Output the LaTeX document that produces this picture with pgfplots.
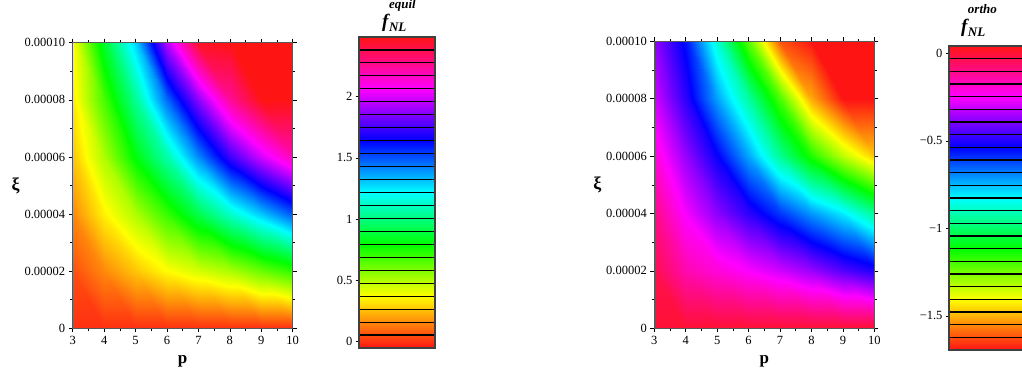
\documentclass[border=0pt]{standalone}
\usepackage{pgfplots}
\usepackage{pgfplotstable}
\pgfplotsset{compat=1.18}
\usepackage{fontspec}
\setmainfont{Liberation Serif}

\newcommand{\fnl}[1]{{\bfseries\itshape\fontsize{19}{20}\selectfont f}\kern0.5pt\raisebox{-4pt}{\rlap{\bfseries\itshape\fontsize{13}{13}\selectfont NL}}\raisebox{19pt}{\bfseries\itshape\fontsize{13}{13}\selectfont #1}}

\pgfplotsset{colormap={myhsv}{rgb255=(255,20,20) rgb255=(255,255,0) rgb255=(0,255,0) rgb255=(0,255,255) rgb255=(0,0,255) rgb255=(255,0,255) rgb255=(255,20,20)}}

\pgfplotstableread{
p xi f
3 0 0
4 0 0
5 0 0
6 0 0
7 0 0
8 0 0
9 0 0
10 0 0
3 0.00002 0.055
4 0.00002 0.16
5 0.00002 0.27
6 0.00002 0.37
7 0.00002 0.44
8 0.00002 0.51
9 0.00002 0.62
10 0.00002 0.72
3 0.00004 0.16
4 0.00004 0.35
5 0.00004 0.51
6 0.00004 0.71
7 0.00004 0.92
8 0.00004 1.13
9 0.00004 1.31
10 0.00004 1.50
3 0.00006 0.27
4 0.00006 0.51
5 0.00006 0.82
6 0.00006 1.08
7 0.00006 1.41
8 0.00006 1.74
9 0.00006 1.99
10 0.00006 2.20
3 0.00008 0.34
4 0.00008 0.68
5 0.00008 1.05
6 0.00008 1.47
7 0.00008 1.87
8 0.00008 2.25
9 0.00008 2.50
10 0.00008 2.85
3 0.0001 0.38
4 0.0001 0.88
5 0.0001 1.30
6 0.0001 1.95
7 0.0001 2.45
8 0.0001 2.85
9 0.0001 3.20
10 0.0001 3.50
}\equiltable

\pgfplotstableread{
p xi f
3 0 0
4 0 0
5 0 0
6 0 0
7 0 0
8 0 0
9 0 0
10 0 0
3 0.00002 -0.03
4 0.00002 -0.15
5 0.00002 -0.20
6 0.00002 -0.25
7 0.00002 -0.30
8 0.00002 -0.36
9 0.00002 -0.44
10 0.00002 -0.50
3 0.00004 -0.10
4 0.00004 -0.26
5 0.00004 -0.38
6 0.00004 -0.49
7 0.00004 -0.60
8 0.00004 -0.71
9 0.00004 -0.81
10 0.00004 -0.95
3 0.00006 -0.20
4 0.00006 -0.37
5 0.00006 -0.53
6 0.00006 -0.73
7 0.00006 -0.95
8 0.00006 -1.15
9 0.00006 -1.33
10 0.00006 -1.47
3 0.00008 -0.30
4 0.00008 -0.49
5 0.00008 -0.72
6 0.00008 -0.94
7 0.00008 -1.20
8 0.00008 -1.51
9 0.00008 -1.80
10 0.00008 -2.00
3 0.0001 -0.37
4 0.0001 -0.56
5 0.0001 -0.88
6 0.0001 -1.23
7 0.0001 -1.62
8 0.0001 -2.05
9 0.0001 -2.35
10 0.0001 -2.50
}\orthotable

% colour bars: value range of each bar (bottom and top)
\pgfplotstableread{
x y
0 -0.051
1 -0.051
0 2.487
1 2.487
}\equilbar
\pgfplotstableread{
x y
0 -1.695
1 -1.695
0 0.042
1 0.042
}\orthobar

\pgfplotsset{
  mainplot/.style={
    scale only axis, width=220pt,
    xmin=3, xmax=10, ymin=0, ymax=0.0001,
    xtick={3,4,5,6,7,8,9,10}, xticklabels={3,4,5,6,7,8,9,10},
    ytick={0,0.00002,0.00004,0.00006,0.00008,0.0001},
    yticklabels={0,0.00002,0.00004,0.00006,0.00008,0.00010},
    scaled y ticks=false,
    minor x tick num=1, minor y tick num=1,
    tick align=outside, major tick length=4pt, minor tick length=2.5pt,
    tick style={black, line width=0.5pt},
    axis line style={gray!70!black, line width=0.8pt},
    axis on top,
    colormap name=myhsv,
    tick label style={font=\fontsize{12.5}{14}\selectfont},
    xlabel={\textbf{p}}, ylabel={\textbf{ξ}},
    every axis x label/.style={at={(rel axis cs:0.5,0)}, anchor=base, yshift=-35pt, font=\fontsize{17}{18}\selectfont},
    every axis y label/.style={at={(rel axis cs:0,0.5)}, anchor=center, xshift=-57pt, font=\fontsize{18}{18}\selectfont},
  },
  cbar/.style={
    scale only axis, width=76pt, anchor=south west,
    xmin=0, xmax=1, xtick=\empty,
    ytick pos=left, yticklabel pos=left,
    tick align=outside, major tick length=3pt, minor tick length=0pt,
    tick style={black, line width=0.5pt},
    yminorgrids, minor grid style={black, line width=1.1pt},
    axis line style={gray!50!black, line width=1.8pt},
    axis on top,
    colormap name=myhsv,
    tick label style={font=\fontsize{12.5}{14}\selectfont},
    every axis title/.style={at={(0.5,1)}, anchor=base},
  },
}

\begin{document}
\begin{tikzpicture}
\useasboundingbox (0,0) rectangle (1022pt,374pt);
% left density plot
\begin{axis}[mainplot, at={(72.7pt,45.7pt)}, anchor=south west, height=285.6pt,
  point meta min=-0.051, point meta max=2.487]
\addplot[surf, shader=interp, mesh/cols=8, point meta=explicit]
  table[x=p, y=xi, meta=f] {\equiltable};
\end{axis}
% left colour bar
\begin{axis}[cbar, at={(359pt,26pt)}, height=311pt,
  ymin=-0.051, ymax=2.487, point meta min=-0.051, point meta max=2.487,
  ytick={0,0.5,1,1.5,2}, yticklabels={0,0.5,1,1.5,2},
  minor ytick={0.05475,0.1605,...,2.39},
  title={\fnl{equil}}, title style={yshift=9pt, xshift=2pt}]
\addplot[surf, shader=interp, mesh/cols=2, point meta=explicit]
  table[x=x, y=y, meta=y] {\equilbar};
\end{axis}
% right density plot
\begin{axis}[mainplot, at={(654.3pt,45.7pt)}, anchor=south west, height=287pt,
  point meta min=-1.695, point meta max=0.042]
\addplot[surf, shader=interp, mesh/cols=8, point meta=explicit]
  table[x=p, y=xi, meta=f] {\orthotable};
\end{axis}
% right colour bar
\begin{axis}[cbar, at={(949pt,24pt)}, height=304pt,
  ymin=-1.695, ymax=0.042, point meta min=-1.695, point meta max=0.042,
  ytick={-1.5,-1,-0.5,0}, yticklabels={−1.5,−1,−0.5,0},
  minor ytick={-1.622625,-1.55025,...,-0.02},
  title={\fnl{ortho}}, title style={yshift=13pt, xshift=-8pt}]
\addplot[surf, shader=interp, mesh/cols=2, point meta=explicit]
  table[x=x, y=y, meta=y] {\orthobar};
\end{axis}
\end{tikzpicture}
\end{document}
